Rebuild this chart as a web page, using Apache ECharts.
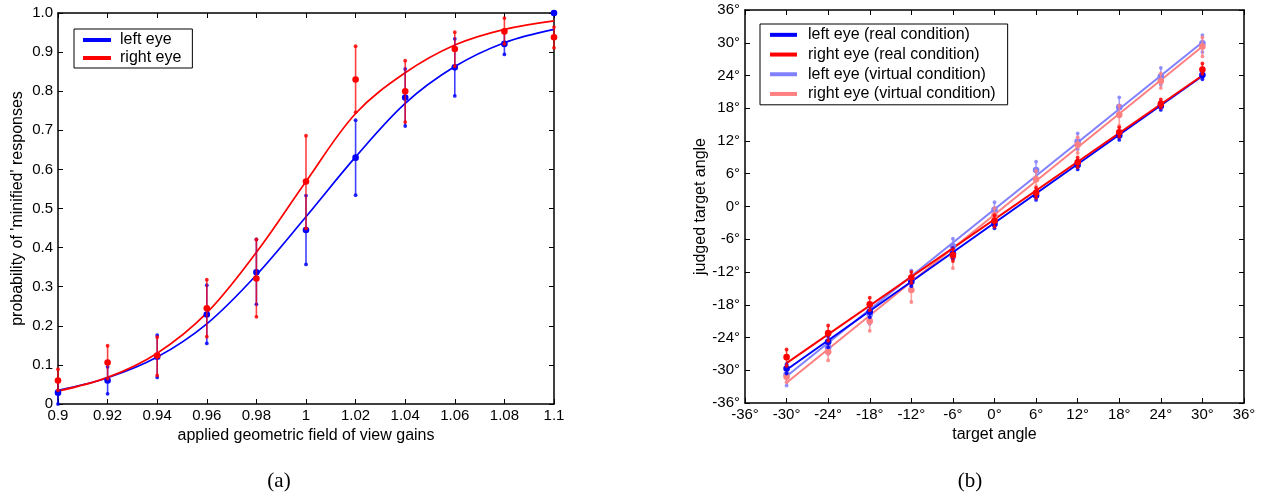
<!DOCTYPE html>
<html>
<head>
<meta charset="utf-8">
<script src="https://cdn.jsdelivr.net/npm/echarts@6/dist/echarts.min.js"></script>
<style>html,body{margin:0;padding:0;background:#fff}#c{width:1268px;height:499px}</style>
</head>
<body>
<div id="c"></div>
<script>
// ---------- panel (a) data ----------
const gains = [0.90, 0.92, 0.94, 0.96, 0.98, 1.00, 1.02, 1.04, 1.06, 1.08, 1.10];
const leftEyeMean  = [0.029, 0.060, 0.121, 0.229, 0.337, 0.445, 0.630, 0.784, 0.861, 0.921, 1.000];
const leftEyeLow   = [0.000, 0.026, 0.068, 0.155, 0.255, 0.357, 0.534, 0.711, 0.788, 0.894, 1.000];
const leftEyeHigh  = [0.060, 0.095, 0.176, 0.304, 0.421, 0.533, 0.726, 0.857, 0.934, 0.953, 1.000];
const rightEyeMean = [0.060, 0.106, 0.124, 0.245, 0.321, 0.569, 0.830, 0.800, 0.908, 0.953, 0.938];
const rightEyeLow  = [0.035, 0.065, 0.073, 0.172, 0.223, 0.449, 0.746, 0.721, 0.864, 0.921, 0.911];
const rightEyeHigh = [0.089, 0.149, 0.171, 0.318, 0.421, 0.686, 0.915, 0.878, 0.951, 0.987, 0.964];
const leftEyeFit   = [0.035, 0.067, 0.120, 0.205, 0.330, 0.479, 0.632, 0.769, 0.863, 0.924, 0.958];
const rightEyeFit  = [0.033, 0.068, 0.130, 0.233, 0.388, 0.569, 0.743, 0.847, 0.918, 0.958, 0.980];

// ---------- panel (b) data ----------
const targets = [-30, -24, -18, -12, -6, 0, 6, 12, 18, 24, 30];
const leftRealMean  = [-29.7, -24.8, -19.3, -13.8, -8.6, -3.2, 2.0, 7.6, 13.0, 18.4, 24.1];
const leftRealLow   = [-30.6, -25.8, -20.3, -14.6, -9.6, -4.0, 1.2, 6.8, 12.2, 17.7, 23.3];
const leftRealHigh  = [-28.9, -23.8, -18.3, -12.9, -7.6, -2.4, 2.8, 8.4, 13.8, 19.1, 24.9];
const rightRealMean = [-27.6, -23.2, -17.9, -13.0, -8.9, -2.6, 2.5, 8.1, 13.6, 18.8, 25.1];
const rightRealLow  = [-29.2, -24.6, -19.0, -14.0, -10.0, -3.7, 1.6, 7.2, 12.8, 18.1, 24.3];
const rightRealHigh = [-26.2, -21.8, -16.7, -12.0, -7.8, -1.6, 3.4, 9.0, 14.5, 19.6, 26.2];
const leftVirtMean  = [-30.8, -25.8, -19.8, -13.2, -7.3, -0.6, 6.7, 11.9, 18.2, 23.8, 29.9];
const leftVirtLow   = [-32.8, -27.0, -21.5, -14.5, -8.3, -1.8, 5.3, 10.5, 16.5, 22.3, 28.3];
const leftVirtHigh  = [-29.5, -24.6, -17.8, -11.7, -5.9, 0.8, 8.2, 13.4, 20.0, 25.4, 31.4];
const rightVirtMean = [-31.2, -26.6, -21.0, -15.3, -9.2, -1.6, 5.0, 11.3, 16.8, 23.0, 29.3];
const rightVirtLow  = [-32.2, -28.2, -22.8, -17.5, -11.3, -2.8, 3.7, 9.8, 14.8, 21.7, 27.5];
const rightVirtHigh = [-30.0, -25.2, -19.4, -13.3, -7.5, -0.3, 6.5, 12.7, 18.5, 24.4, 31.0];
const fitTargets   = [-30, 30];
const leftRealFit  = [-29.9, 23.9];
const rightRealFit = [-28.7, 24.0];
const leftVirtFit  = [-31.1, 30.1];
const rightVirtFit = [-32.3, 29.3];

const xTicksA = [0.9, 1.1, 0.02];
const yTicksA = [0, 1, 0.1];
const ticksB = [-36, 36, 6];

const BLUE = '#0000ff', RED = '#ff0000', LBLUE = '#8080ff', LRED = '#ff8080';
const FONT = 'Liberation Sans';

function zip(xs, a) { return xs.map((x, i) => [x, a[i]]); }
function zip4(xs, m, lo, hi) { return xs.map((x, i) => [x, m[i], lo[i], hi[i]]); }

function errRender(color, rBig) {
  return function (params, api) {
    const x = api.value(0), m = api.value(1), lo = api.value(2), hi = api.value(3);
    const pl = api.coord([x, lo]), ph = api.coord([x, hi]), pm = api.coord([x, m]);
    return {
      type: 'group',
      children: [
        { type: 'line', shape: { x1: pl[0], y1: pl[1], x2: ph[0], y2: ph[1] },
          style: { stroke: color, lineWidth: 1.6, opacity: 0.75 } },
        { type: 'circle', shape: { cx: pl[0], cy: pl[1], r: 1.9 }, style: { fill: color, opacity: 0.85 } },
        { type: 'circle', shape: { cx: ph[0], cy: ph[1], r: 1.9 }, style: { fill: color, opacity: 0.85 } },
        { type: 'circle', shape: { cx: pm[0], cy: pm[1], r: rBig }, style: { fill: color } }
      ]
    };
  };
}

function errSeries(name, color, data, xi, yi) {
  return {
    type: 'custom', name: name, xAxisIndex: xi, yAxisIndex: yi,
    renderItem: errRender(color, 3.3), data: data, clip: false,
    encode: { x: 0, y: [1, 2, 3] }, silent: true, z: 3
  };
}

function lineSeries(name, color, data, xi, yi, smooth, width) {
  return {
    type: 'line', name: name, xAxisIndex: xi, yAxisIndex: yi, data: data,
    smooth: smooth, showSymbol: false, symbol: 'none',
    lineStyle: { color: color, width: width }, itemStyle: { color: color },
    silent: true, z: 2, animation: false
  };
}

const axisLine = { show: true, onZero: false, lineStyle: { color: '#000', width: 1.5 } };
const tick = { show: true, inside: true, length: 5, lineStyle: { color: '#000', width: 1 } };
const lblStyle = { color: '#000', fontSize: 15, fontFamily: FONT };
const nameStyle = { color: '#000', fontSize: 16, fontFamily: FONT };

function fmtA(v) { return String(parseFloat(v.toFixed(2))); }
function fmtAy(v) { if (Math.abs(v - 1) < 1e-9) return '1.0'; if (Math.abs(v) < 1e-9) return '0'; return v.toFixed(1); }
function fmtDeg(v) { return Math.round(v) + '°'; }

function xAx(grid, r, fmt, name, pos) {
  const base = {
    type: 'value', gridIndex: grid, min: r[0], max: r[1], interval: r[2], position: pos,
    axisLine: axisLine, axisTick: tick, splitLine: { show: false }
  };
  if (pos === 'bottom') {
    base.axisLabel = Object.assign({ formatter: fmt, margin: 4 }, lblStyle);
    base.name = name; base.nameLocation = 'middle'; base.nameGap = 22; base.nameTextStyle = nameStyle;
  } else {
    base.axisLabel = { show: false };
  }
  return base;
}
function yAx(grid, r, fmt, name, pos, gap) {
  const base = {
    type: 'value', gridIndex: grid, min: r[0], max: r[1], interval: r[2], position: pos,
    axisLine: axisLine, axisTick: tick, splitLine: { show: false }
  };
  if (pos === 'left') {
    base.axisLabel = Object.assign({ formatter: fmt, margin: 5 }, lblStyle);
    base.name = name; base.nameLocation = 'middle'; base.nameGap = gap; base.nameTextStyle = nameStyle;
  } else {
    base.axisLabel = { show: false };
  }
  return base;
}

const chart = echarts.init(document.getElementById('c'), null, { renderer: 'canvas' });
chart.setOption({
  animation: false,
  backgroundColor: '#fff',
  textStyle: { fontFamily: FONT },
  grid: [
    { left: 58, right: 714, top: 13, bottom: 95 },
    { left: 745, right: 24, top: 10, bottom: 96 }
  ],
  xAxis: [
    xAx(0, xTicksA, fmtA, 'applied geometric field of view gains', 'bottom'),
    xAx(0, xTicksA, fmtA, '', 'top'),
    xAx(1, ticksB, fmtDeg, 'target angle', 'bottom'),
    xAx(1, ticksB, fmtDeg, '', 'top')
  ],
  yAxis: [
    yAx(0, yTicksA, fmtAy, "probability of 'minified' responses", 'left', 32),
    yAx(0, yTicksA, fmtAy, '', 'right'),
    yAx(1, ticksB, fmtDeg, 'judged target angle', 'left', 36),
    yAx(1, ticksB, fmtDeg, '', 'right')
  ],
  legend: [
    {
      data: [{ name: 'left eye' }, { name: 'right eye' }],
      orient: 'vertical', left: 74, top: 29,
      icon: 'rect', itemWidth: 28, itemHeight: 4, itemGap: 0,
      backgroundColor: '#fff', borderColor: '#000', borderWidth: 1, borderRadius: 0,
      padding: [2, 11, 1, 9],
      textStyle: { color: '#000', fontSize: 16, fontFamily: FONT, lineHeight: 18, padding: [0, 0, 0, 4] },
      selectedMode: false
    },
    {
      data: [{ name: 'left eye (real condition)' }, { name: 'right eye (real condition)' },
             { name: 'left eye (virtual condition)' }, { name: 'right eye (virtual condition)' }],
      orient: 'vertical', left: 760, top: 24,
      icon: 'rect', itemWidth: 27, itemHeight: 4, itemGap: 0,
      backgroundColor: '#fff', borderColor: '#000', borderWidth: 1, borderRadius: 0,
      padding: [1, 12, 1, 10],
      textStyle: { color: '#000', fontSize: 16, fontFamily: FONT, lineHeight: 19.7, padding: [0, 0, 0, 6] },
      selectedMode: false
    }
  ],
  graphic: [
    { type: 'text', x: 279, y: 481, style: { text: '(a)', font: '21px "Liberation Serif"', fill: '#000', align: 'center', verticalAlign: 'middle' } },
    { type: 'text', x: 970, y: 481, style: { text: '(b)', font: '21px "Liberation Serif"', fill: '#000', align: 'center', verticalAlign: 'middle' } }
  ],
  series: [
    lineSeries('left eye', BLUE, zip(gains, leftEyeFit), 0, 0, 0.35, 1.7),
    lineSeries('right eye', RED, zip(gains, rightEyeFit), 0, 0, 0.35, 1.7),
    errSeries('left eye pts', BLUE, zip4(gains, leftEyeMean, leftEyeLow, leftEyeHigh), 0, 0),
    errSeries('right eye pts', RED, zip4(gains, rightEyeMean, rightEyeLow, rightEyeHigh), 0, 0),

    lineSeries('left eye (virtual condition)', LBLUE, zip(fitTargets, leftVirtFit), 2, 2, false, 2),
    lineSeries('right eye (virtual condition)', LRED, zip(fitTargets, rightVirtFit), 2, 2, false, 2),
    lineSeries('left eye (real condition)', BLUE, zip(fitTargets, leftRealFit), 2, 2, false, 2),
    lineSeries('right eye (real condition)', RED, zip(fitTargets, rightRealFit), 2, 2, false, 2),
    errSeries('lv pts', LBLUE, zip4(targets, leftVirtMean, leftVirtLow, leftVirtHigh), 2, 2),
    errSeries('rv pts', LRED, zip4(targets, rightVirtMean, rightVirtLow, rightVirtHigh), 2, 2),
    errSeries('lr pts', BLUE, zip4(targets, leftRealMean, leftRealLow, leftRealHigh), 2, 2),
    errSeries('rr pts', RED, zip4(targets, rightRealMean, rightRealLow, rightRealHigh), 2, 2)
  ]
});
</script>
</body>
</html>
